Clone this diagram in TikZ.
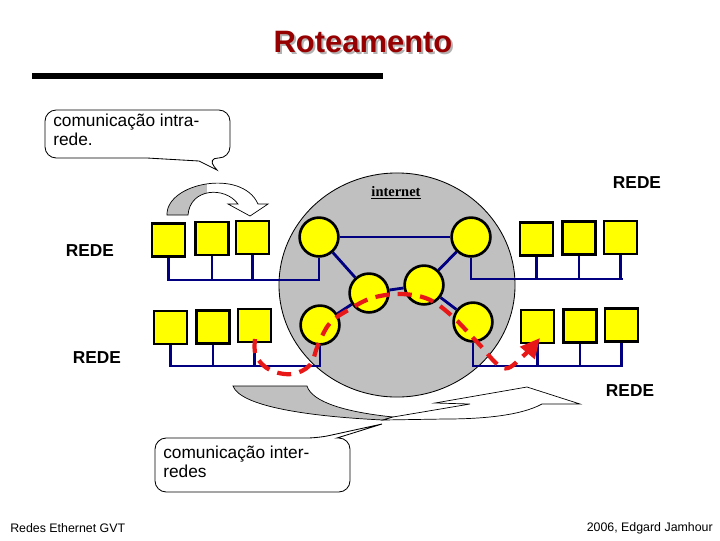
\documentclass[tikz,border=0pt]{standalone}
\usepackage{fontspec}
\setmainfont{Liberation Sans}
\newfontfamily\netfont{Liberation Serif}
\usepackage{tikz}
\usetikzlibrary{shapes,shapes.geometric,backgrounds,positioning,arrows.meta}
\definecolor{netgray}{RGB}{192,192,192}
\definecolor{hostyellow}{RGB}{255,255,0}
\definecolor{wirenavy}{RGB}{0,0,128}
\definecolor{routered}{RGB}{232,24,24}
\definecolor{titlered}{RGB}{150,0,0}

\begin{document}
\begin{tikzpicture}[x=0.025cm,y=-0.025cm,
  host/.style={draw, line width=1.9pt, fill=hostyellow, minimum size=0.82cm, inner sep=0pt},
  router/.style={draw, circle, line width=1.9pt, fill=hostyellow, minimum size=0.97cm, inner sep=0pt},
  wire/.style={draw, line width=2pt, color=wirenavy},
  rede/.style={font=\fontsize{12.3}{14}\selectfont\bfseries},
  balloon/.style={draw, line width=0.6pt, fill=white},
  balloontext/.style={anchor=west, inner sep=0pt, align=left, font=\fontsize{12.3}{13.5}\selectfont},
  route/.style={line width=3pt, color=routered, dash pattern=on 10pt off 6pt, -{Triangle[length=14pt,width=13pt]}}]
\useasboundingbox (0,0) rectangle (720,540);

\node[text=gray!60, font=\fontsize{22}{26}\selectfont\bfseries] (shadow) at (365,44) {Roteamento};
\node[text=titlered, font=\fontsize{22}{26}\selectfont\bfseries] (title) at (363,42) {Roteamento};
\fill (32,73) rectangle (383,79);

\node[font=\netfont\bfseries\fontsize{10.3}{12}\selectfont] (netlabel) at (396,193) {\underline{internet}};

\node[host] (A1) at (168.5,240) {};
\node[host] (A2) at (212,238.5) {};
\node[host] (A3) at (252.5,237.5) {};
\node[host] (B1) at (170.5,327.5) {};
\node[host] (B2) at (213,327) {};
\node[host] (B3) at (254.5,325.5) {};
\node[host] (C1) at (536.5,239) {};
\node[host] (C2) at (579,238) {};
\node[host] (C3) at (620.5,237.5) {};
\node[host] (D1) at (537.5,326.5) {};
\node[host] (D2) at (580,326) {};
\node[host] (D3) at (621.5,325) {};

\node[router] (R1) at (319,237) {};
\node[router] (R2) at (471,237) {};
\node[router] (R3) at (369,293) {};
\node[router] (R4) at (424,285) {};
\node[router] (R5) at (320,325) {};
\node[router] (R6) at (473,322) {};

\coordinate (busA) at (0,280);
\coordinate (busB) at (0,366);
\coordinate (busC) at (0,279);
\coordinate (busD) at (0,366);

\begin{scope}[on background layer]
\node[draw, ellipse, line width=0.6pt, fill=netgray, minimum width=5.9cm, minimum height=5.6cm, inner sep=0pt] (net) at (397,285) {};
\path [wire] (R1) -- (R2);
\path [wire] (R1) -- (R3);
\path [wire] (R3) -- (R4);
\path [wire] (R4) -- (R2);
\path [wire] (R4) -- (R6);
\path [wire] (R3) -- (R5);
\end{scope}

\path [wire] (A1.south) |- (R1 |- busA) -- (R1.south);
\path [wire] (A2.south) -- (A2 |- busA);
\path [wire] (A3.south) -- (A3 |- busA);
\path [wire] (B1.south) |- (R5 |- busB) -- (R5.south);
\path [wire] (B2.south) -- (B2 |- busB);
\path [wire] (B3.south) -- (B3 |- busB);
\path [wire] (R2.south) |- ([xshift=2]C3 |- busC);
\path [wire] (C1.south) -- (C1 |- busC);
\path [wire] (C2.south) -- (C2 |- busC);
\path [wire] (C3.south) -- (C3 |- busC);
\path [wire] (R6.south) |- (D3 |- busD) -- (D3.south);
\path [wire] (D1.south) -- (D1 |- busD);
\path [wire] (D2.south) -- (D2 |- busD);

\node[rede] (redeC) at (637,183) {REDE};
\node[rede] (redeA) at (90,251) {REDE};
\node[rede] (redeB) at (97,358) {REDE};
\node[rede] (redeD) at (630,391) {REDE};

\path[balloon] (137,110) [rounded corners=8pt] -- (230,110) -- (230,158) -- (207,158) [sharp corners] -- (217,170) -- (199,161) -- (147,158) [rounded corners=8pt] -- (45,158) -- (45,110) -- cycle;
\node[balloontext] (intra) at (53,129.5) {comunica\c{c}\~ao intra-\\rede.};

\path[draw, line width=0.5pt, fill=white, path picture={\fill[netgray] (150,160) rectangle (207,225);}] (167,215) .. controls (166,183) and (242,168) .. (258,204) -- (268,204) -- (250,216) -- (228,204) -- (238,204) .. controls (225,186) and (190,188) .. (188,215) -- cycle;

\path[draw, line width=0.5pt, fill=netgray] (233,386) -- (307,386) .. controls (312,402) and (345,412) .. (393,417) -- (383,420) .. controls (300,416) and (240,405) .. (233,386) -- cycle;
\path[draw, line width=0.5pt, fill=white] (393,417) -- (470,404) -- (435,403) -- (527,387) -- (580,404) -- (542,404) .. controls (520,416) and (480,419) .. (445,419) -- (383,420) -- cycle;

\path[balloon] (250,492) [rounded corners=8pt] -- (155,492) -- (155,438) -- (318,438) [sharp corners] -- (382,424) -- (337,438) [rounded corners=8pt] -- (350,438) -- (350,492) -- cycle;
\node[balloontext] (inter) at (163,462) {comunica\c{c}\~ao inter-\\redes};

\coordinate (src) at (255,339);
\coordinate (dst) at (540,338);
\draw[route] plot[smooth, tension=0.6] coordinates {(src) (256,356) (270,370) (292,374) (310,365) (318,345) (330,323) (350,309) (372,298) (400,294) (428,299) (452,316) (478,343) (503,368) (522,357) (dst)};

\node[anchor=west, inner sep=0pt, font=\fontsize{8.8}{10}\selectfont] (footl) at (10,528) {Redes Ethernet GVT};
\node[anchor=east, inner sep=0pt, font=\fontsize{8.8}{10}\selectfont] (footr) at (713,528) {2006, Edgard Jamhour};
\end{tikzpicture}
\end{document}
